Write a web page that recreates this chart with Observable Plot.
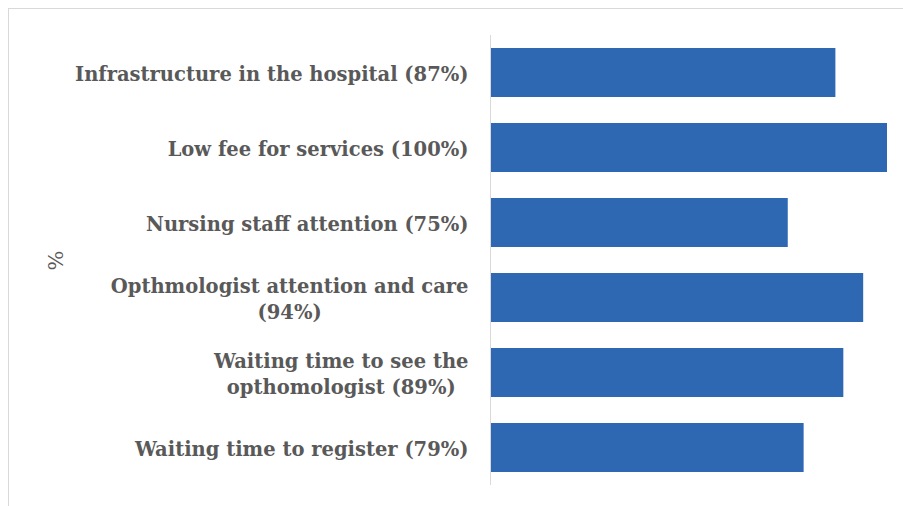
<!DOCTYPE html>
<html>
<head>
<meta charset="utf-8">
<script src="https://cdn.jsdelivr.net/npm/d3@7"></script>
<script src="https://cdn.jsdelivr.net/npm/@observablehq/plot@0.6"></script>
<style>
  html, body { margin: 0; padding: 0; background: #fff; }
  #wrap { margin: 8px 0 0 8px; border-top: 1px solid #d9d9d9; border-left: 1px solid #d9d9d9; width: 894px; height: 497px; }
  #wrap svg { display: block; }
</style>
</head>
<body>
<div id="wrap"></div>
<script>
const categories = [
  "Infrastructure in the hospital (87%)",
  "Low fee for services (100%)",
  "Nursing staff attention (75%)",
  "Opthmologist attention and care\n(94%)",
  "Waiting time to see the\nopthomologist (89%)",
  "Waiting time to register (79%)"
];
const values = [87, 100, 75, 94, 89, 79];
const axisLabel = "%";

const data = categories.map((c, i) => ({category: c, value: values[i]}));

const FONT = "'DejaVu Serif', serif";
const chart = Plot.plot({
  width: 894,
  height: 497,
  marginLeft: 481,
  marginRight: 16,
  marginTop: 26,
  marginBottom: 21,
  style: {fontFamily: FONT, fontSize: "19.5px", color: "#595959", background: "#fff"},
  x: {domain: [0, 100], axis: null},
  y: {domain: categories, paddingInner: 0.35, paddingOuter: 0.175},
  marks: [
    Plot.barX(data, {x: "value", y: "category", fill: "#2e68b2"}),
    Plot.ruleX([0], {stroke: "#d9d9d9", strokeWidth: 1}),
    Plot.axisY({
      tickSize: 0,
      tickPadding: 22,
      lineHeight: 1.33,
      fontWeight: "bold",
      label: axisLabel,
      labelAnchor: "center",
      labelOffset: 442,
      labelArrow: "none"
    })
  ]
});
document.getElementById("wrap").appendChild(chart);

// center the lines of wrapped labels on one another, as the source does
chart.querySelectorAll("g[aria-label='y-axis tick label'] text").forEach(t => {
  const spans = t.querySelectorAll("tspan");
  if (spans.length > 1) {
    const w = d3.max(Array.from(spans), s => s.getComputedTextLength());
    const x0 = +(t.getAttribute("x") || 0);
    t.setAttribute("text-anchor", "middle");
    spans.forEach(s => s.setAttribute("x", x0 - w / 2));
  }
});
// axis title: regular weight, slightly larger
chart.querySelectorAll("g[aria-label='y-axis label']").forEach(g => {
  g.setAttribute("font-weight", "normal");
  g.setAttribute("font-size", "21px");
  g.querySelectorAll("text").forEach(t => t.setAttribute("font-weight", "normal"));
});
</script>
</body>
</html>
